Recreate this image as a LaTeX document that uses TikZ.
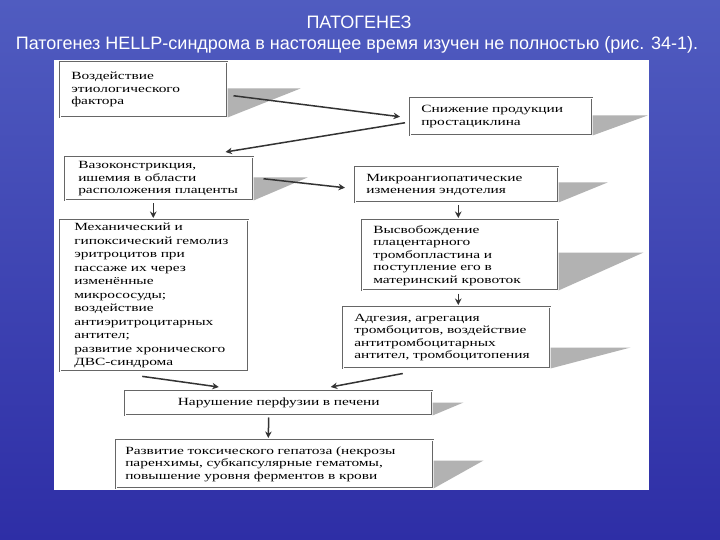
\documentclass[tikz,border=0pt]{standalone}
\usepackage{fontspec}
\setmainfont{Liberation Serif}
\newfontfamily\titlefont{Liberation Sans}
\newfontfamily\boxfont[FakeStretch=1.4]{Liberation Serif}
\usepackage{tikz}
\usetikzlibrary{arrows.meta, positioning, calc}
\definecolor{bgtop}{RGB}{80,92,192}
\definecolor{bgbot}{RGB}{46,46,166}
\newcommand\boxshadow[3]{\fill[shadetri] (#1.south east) -- ++(0,-#2) -- ++(#3,0) -- cycle;}

\begin{document}
\begin{tikzpicture}[x=1pt, y=-1pt, >=Stealth,
    box/.style={draw=black!60, line width=0.5pt, double=white, double distance=1.2pt,
        fill=white, anchor=north west, align=left, inner xsep=11pt, inner ysep=3pt,
        font=\boxfont\fontsize{11}{12.5}\selectfont},
    flow/.style={-{Stealth[length=6.5pt,width=6.5pt]}, draw=black!80, line width=1.5pt},
    shadetri/.style={fill=black!30}]
    % 背景
    \shade[top color=bgtop, bottom color=bgbot] (0,0) rectangle (720,540);
    \useasboundingbox (0,0) rectangle (720,540);
    \fill[white] (54,60) rectangle (649,490);
    % 标题
    \node[font=\titlefont\fontsize{18}{20}\selectfont, text=white] (title) at (359,22) {ПАТОГЕНЕЗ};
    \node[font=\titlefont\fontsize{18}{20}\selectfont, text=white] (subtitle) at (357,45)
        {Патогенез HELLP-синдрома в настоящее время изучен не полностью (рис. 34-1).};
    % 方框
    \node[box, text width=145pt, minimum height=55pt] (etio) at (60,62)
        {Воздействие\\этиологического\\фактора};
    \node[box, text width=160pt, minimum height=37pt] (prost) at (410,98)
        {Снижение продукции\\простациклина};
    \node[box, text width=162pt, inner xsep=13pt, minimum height=43pt] (vaso) at (65,157)
        {Вазоконстрикция,\\ишемия в области\\расположения плаценты};
    \node[box, text width=181pt, minimum height=35pt] (micro) at (355,167)
        {Микроангиопатические\\изменения эндотелия};
    \node[box, text width=160pt, inner xsep=14pt, minimum height=148pt,
        font=\boxfont\fontsize{11}{13.5}\selectfont] (hemol) at (60,220)
        {Механический и\\гипоксический гемолиз\\эритроцитов при\\пассаже их через\\изменённые\\микрососуды;\\воздействие\\антиэритроцитарных\\антител;\\развитие хронического\\ДВС-синдрома};
    \node[box, text width=174pt, minimum height=70pt] (trplast) at (362,220)
        {Высвобождение\\плацентарного\\тромбопластина и\\поступление его в\\материнский кровоток};
    \node[box, text width=185pt, minimum height=61pt] (adhes) at (343,307)
        {Адгезия, агрегация\\тромбоцитов, воздействие\\антитромбоцитарных\\антител, тромбоцитопения};
    \node[box, text width=289pt, inner xsep=9pt, minimum height=24pt, align=center] (perf) at (125,391)
        {Нарушение перфузии в печени};
    \node[box, text width=299pt, inner xsep=9pt, minimum height=48pt] (hepat) at (116,440)
        {Развитие токсического гепатоза (некрозы\\паренхимы, субкапсулярные гематомы,\\повышение уровня ферментов в крови};
    % 阴影
    \boxshadow{etio}{29}{73}
    \boxshadow{prost}{20}{55}
    \boxshadow{vaso}{23}{54}
    \boxshadow{micro}{20}{49}
    \boxshadow{trplast}{38}{85}
    \boxshadow{adhes}{21}{80}
    \boxshadow{perf}{13}{31}
    \boxshadow{hepat}{28}{50}
    % 箭头
    \draw[flow] ($(etio.east)+(6,6)$) -- ($(prost.west)+(-10,0)$);
    \draw[flow] ($(prost.west)+(-5,6)$) -- ($(vaso.north east)+(-28,-5)$);
    \draw[flow] ($(vaso.east)+(10,0)$) -- ($(micro.west)+(-10,3)$);
    \draw[flow] ($(vaso.south)+(-6,3)$) -- ($(hemol.north)+(-1,-2)$);
    \draw[flow] ($(micro.south)+(1.5,3)$) -- ($(trplast.north)+(-2,-2)$);
    \draw[flow] ($(trplast.south)+(-2,3)$) -- ($(adhes.north)+(11.5,-2)$);
    \draw[flow] ($(hemol.south)+(-12,5)$) -- ($(perf.north)+(-60,-4)$);
    \draw[flow] ($(adhes.south)+(-44,5)$) -- ($(perf.north)+(52,-4)$);
    \draw[flow] ($(perf.south)+(-10,2)$) -- ($(hepat.north)+(-6.5,-2)$);
\end{tikzpicture}
\end{document}
